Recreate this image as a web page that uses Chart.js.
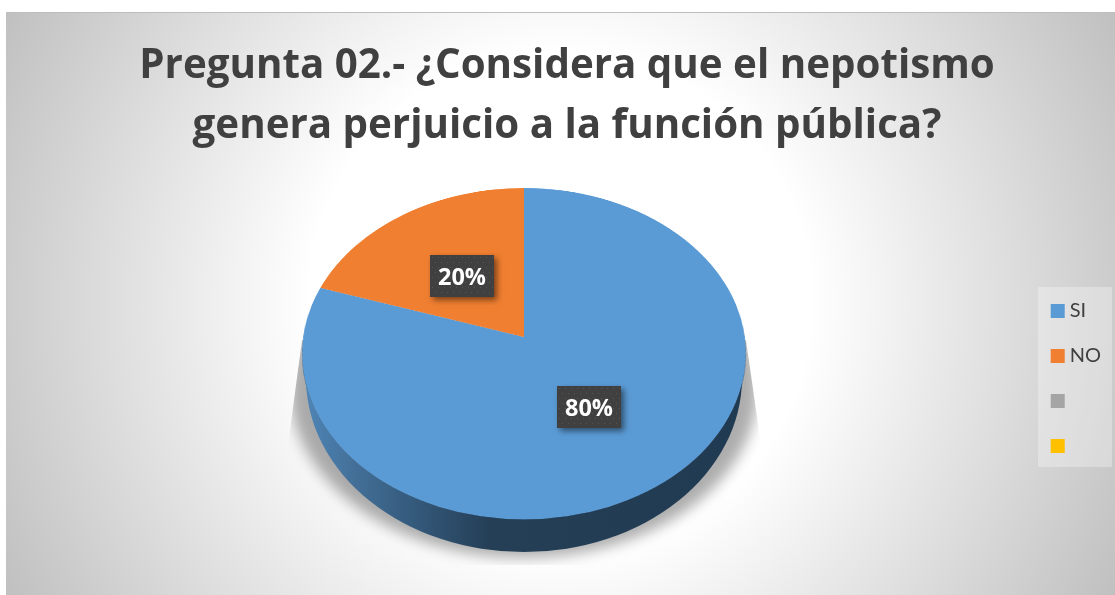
<!DOCTYPE html>
<html>
<head>
<meta charset="utf-8">
<script src="https://cdn.jsdelivr.net/npm/chart.js@4"></script>
<style>
html, body { margin: 0; padding: 0; background: #fff; overflow: hidden; }
#area {
    position: absolute; left: 6px; top: 12px; width: 1109px; height: 583px;
    border-top: 1px solid #bdbdbd; box-sizing: border-box;
    background: radial-gradient(circle 626px at 554px 290px, #fff 0%, #fff 40%, #c0c0c0 100%);
}
#pastel { position: absolute; left: 224px; top: 37px; transform-origin: 300px 300px; }
#capa { position: absolute; left: 0; top: 0; }
</style>
</head>
<body>
<div id="area"></div>
<canvas id="pastel" width="600" height="600"></canvas>
<canvas id="capa" width="1115" height="595"></canvas>
<script>
const etiquetas = ["SI", "NO", "", ""]
const valores = [80, 20, 0, 0]
const colores = ["#5b9bd5", "#f07f31", "#a5a5a5", "#ffc000"]
const titulo = ["Pregunta 02.- ¿Considera que el nepotismo", "genera perjuicio a la función pública?"]

/* perspectiva del pastel: vertice en (524,337), arriba 149px, abajo 183px, ancho 222px */
const vx = 524, vy = 337
const persp = 34 / 332
const escY = 149 * (1 + persp)
const escX = 222 * Math.sqrt(1 - persp * persp)
const radio = 290

document.getElementById("pastel").style.transform =
    `matrix3d(${escX / radio},0,0,0, 0,${escY / radio},0,${-persp / radio}, 0,0,1,0, 0,0,0,1)`

function proyectar(angulo, r) {
    let u = Math.sin(angulo) * r
    let v = -Math.cos(angulo) * r
    let w = 1 - persp * v
    return [vx + escX * u / w, vy + escY * v / w]
}

new Chart(document.getElementById("pastel").getContext("2d"), {
    type: "pie",
    data: { labels: etiquetas, datasets: [{ data: valores, backgroundColor: colores, borderWidth: 0 }] },
    options: {
        responsive: false,
        animation: false,
        radius: radio,
        layout: { padding: 0 },
        plugins: { legend: { display: false }, title: { display: false }, tooltip: { enabled: false } }
    }
})

/* sombra, pared lateral, panel de leyenda y etiquetas */
const decoracion = {
    id: "decoracion",
    beforeDraw(chart) {
        let ctx = chart.ctx
        ctx.save()
        ctx.fillStyle = "rgba(255,255,255,.3)"
        ctx.fillRect(1038, 287, 74, 180)
        ctx.restore()
    },
    beforeDatasetsDraw(chart) {
        let ctx = chart.ctx
        ctx.save()
        ctx.beginPath()
        ctx.rect(0, 0, 1115, 595)
        ctx.ellipse(524, 354, 221.5, 165.5, 0, 0, Math.PI * 2)
        ctx.clip("evenodd")

        ctx.save()
        ctx.beginPath()
        ctx.moveTo(302, 340)
        ctx.lineTo(288, 445)
        ctx.lineTo(288, 565)
        ctx.lineTo(761, 565)
        ctx.lineTo(761, 445)
        ctx.lineTo(746, 340)
        ctx.closePath()
        ctx.clip()
        ctx.filter = "blur(7px)"
        ctx.fillStyle = "rgba(0,0,0,.32)"
        ctx.beginPath()
        ctx.ellipse(524, 388, 234, 170, 0, 0, Math.PI * 2)
        ctx.fill()
        ctx.restore()

        let pared = ctx.createLinearGradient(302, 0, 746, 0)
        pared.addColorStop(0, "#4f86b8")
        pared.addColorStop(0.12, "#436f97")
        pared.addColorStop(0.25, "#345a7c")
        pared.addColorStop(0.42, "#253f57")
        pared.addColorStop(1, "#203a52")
        ctx.fillStyle = pared
        ctx.beginPath()
        ctx.ellipse(524, 378, 218, 174, 0, 0, Math.PI * 2)
        ctx.fill()
        ctx.restore()
    },
    afterDatasetsDraw(chart) {
        let ctx = chart.ctx
        let total = valores.reduce((a, b) => a + b, 0)
        let acumulado = 0
        for (let i = 0; i < valores.length; i++) {
            let medio = (acumulado + valores[i] / 2) / total * Math.PI * 2
            acumulado += valores[i]
            if (valores[i] == 0) continue
            let p = proyectar(medio, 0.49)
            let x = Math.round(p[0]) - 33, y = Math.round(p[1]) - 19
            ctx.save()
            ctx.shadowColor = "rgba(0,0,0,.5)"
            ctx.shadowBlur = 6
            ctx.shadowOffsetX = 3
            ctx.shadowOffsetY = 3
            ctx.fillStyle = "#404040"
            ctx.fillRect(x, y, 64, 42)
            ctx.restore()
            ctx.save()
            ctx.fillStyle = "#565656"
            for (let fy = 2; fy < 42; fy += 5) {
                for (let fx = 2 + (Math.round(fy / 5) % 2) * 3; fx < 64; fx += 6) {
                    ctx.fillRect(x + fx, y + fy, 1, 1)
                }
            }
            ctx.fillStyle = "#fff"
            ctx.font = "bold 23.5px 'Open Sans'"
            ctx.textAlign = "center"
            ctx.textBaseline = "middle"
            ctx.fillText(valores[i] + "%", x + 32, y + 23)
            ctx.restore()
        }
    }
}

new Chart(document.getElementById("capa").getContext("2d"), {
    type: "pie",
    data: { labels: etiquetas, datasets: [{ data: valores, backgroundColor: colores, borderWidth: 0 }] },
    plugins: [decoracion],
    options: {
        responsive: false,
        animation: false,
        radius: 0,
        layout: { padding: { left: 23, right: 4, top: 0, bottom: 0 } },
        plugins: {
            tooltip: { enabled: false },
            title: {
                display: true,
                text: titulo,
                color: "#404040",
                font: { family: "Open Sans", weight: "bold", size: 40.3, lineHeight: 1.489 },
                padding: { top: 37, bottom: 5 }
            },
            legend: {
                position: "right",
                fullSize: false,
                labels: {
                    usePointStyle: true,
                    pointStyle: "rect",
                    boxWidth: 4,
                    boxHeight: 14,
                    color: "#404040",
                    font: { family: "Lato", size: 20 },
                    padding: 25
                }
            }
        }
    }
})
</script>
</body>
</html>
